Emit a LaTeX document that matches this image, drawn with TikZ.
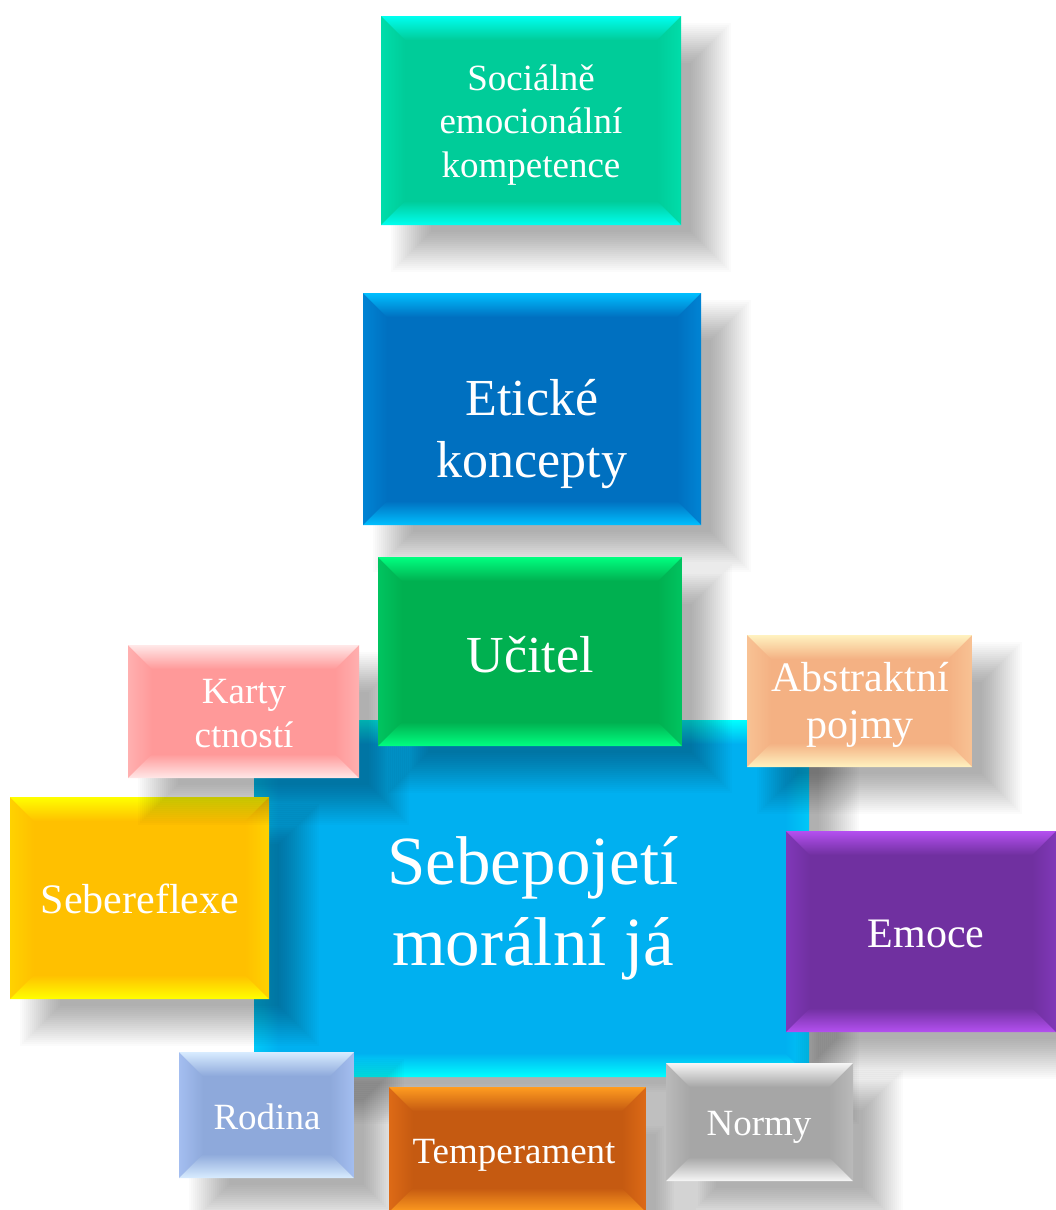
\documentclass[tikz,border=0pt]{standalone}
\usepackage{fontspec}
\setmainfont{Liberation Serif}

% tile colours: base face, light bevel edge (top/bottom), side bevel edge
\definecolor{socB}{HTML}{00CC99}\definecolor{socL}{HTML}{00FFF0}\definecolor{socS}{HTML}{00DDAA}
\definecolor{etiB}{HTML}{0070C0}\definecolor{etiL}{HTML}{00BFFF}\definecolor{etiS}{HTML}{0084D4}
\definecolor{corB}{HTML}{00B0F0}\definecolor{corL}{HTML}{00FFFF}\definecolor{corS}{HTML}{00C8F8}
\definecolor{sebB}{HTML}{FFC000}\definecolor{sebL}{HTML}{FFFF00}\definecolor{sebS}{HTML}{FFD200}
\definecolor{karB}{HTML}{FF9999}\definecolor{karL}{HTML}{FFE8E8}\definecolor{karS}{HTML}{FFB0B0}
\definecolor{uciB}{HTML}{00B050}\definecolor{uciL}{HTML}{00FF80}\definecolor{uciS}{HTML}{00C460}
\definecolor{absB}{HTML}{F4B183}\definecolor{absL}{HTML}{FFF2C0}\definecolor{absS}{HTML}{F8C294}
\definecolor{emoB}{HTML}{7030A0}\definecolor{emoL}{HTML}{B450F0}\definecolor{emoS}{HTML}{8038B8}
\definecolor{rodB}{HTML}{8EA9DB}\definecolor{rodL}{HTML}{D8ECFF}\definecolor{rodS}{HTML}{A4BEF0}
\definecolor{temB}{HTML}{C55A11}\definecolor{temL}{HTML}{FF9C20}\definecolor{temS}{HTML}{DD6A16}
\definecolor{norB}{HTML}{A6A6A6}\definecolor{norL}{HTML}{F6F6F6}\definecolor{norS}{HTML}{BABABA}

\tikzset{
  bevelbox/.style n args={3}{%
    fill=#1, draw=none, inner sep=0pt,
    path picture={
      \def\bw{24}
      \coordinate (pnw) at (path picture bounding box.north west);
      \coordinate (pne) at (path picture bounding box.north east);
      \coordinate (psw) at (path picture bounding box.south west);
      \coordinate (pse) at (path picture bounding box.south east);
      \shade[left color=#3, right color=#1]
        (pnw) -- ([shift={(\bw,\bw)}]pnw) -- ([shift={(\bw,-\bw)}]psw) -- (psw) -- cycle;
      \shade[right color=#3, left color=#1]
        (pne) -- ([shift={(-\bw,\bw)}]pne) -- ([shift={(-\bw,-\bw)}]pse) -- (pse) -- cycle;
      \shade[top color=#2, bottom color=#1]
        (pnw) -- (pne) -- ([shift={(-\bw,\bw)}]pne) -- ([shift={(\bw,\bw)}]pnw) -- cycle;
      \shade[bottom color=#2, top color=#1]
        (psw) -- (pse) -- ([shift={(-\bw,-\bw)}]pse) -- ([shift={(\bw,-\bw)}]psw) -- cycle;
    }
  },
  label text/.style={text=white, inner sep=0pt, anchor=base}
}

% soft drop shadow under a rectangle given by its corners
\newcommand\softshadow[4]{%
  \foreach \r in {-20,-18,...,20}{
    \fill[black, fill opacity=0.017]
      ({#1+30-(\r)},{#2+27-(\r)}) rectangle ({#3+30+(\r)},{#4+27+(\r)});
  }%
}

% bevelled tile with its shadow: name, x1, y1, x2, y2, colour prefix
\newcommand\tile[6]{%
  \softshadow{#2}{#3}{#4}{#5}
  \pgfmathsetmacro\tilew{#4-#2}
  \pgfmathsetmacro\tileh{#5-#3}
  \node[bevelbox={#6B}{#6L}{#6S}, minimum width=\tilew pt, minimum height=\tileh pt]
    (#1) at ({(#2+#4)/2},{(#3+#5)/2}) {};
}

\begin{document}
\begin{tikzpicture}[x=1pt,y=-1pt]
\useasboundingbox (0,0) rectangle (1056,1210);
\fill[white] (0,0) rectangle (1056,1210);
\clip (0,0) rectangle (1056,1210);

\tile{soc}{381}{16}{681}{225}{soc}
\node[label text, font=\fontsize{37}{43.5}\selectfont] (socText) at (531,90)
  {\begin{tabular}[t]{@{}c@{}}Sociálně\\emocionální\\kompetence\end{tabular}};

\tile{etik}{363}{293}{701}{525}{eti}
\node[label text, font=\fontsize{52}{62}\selectfont] (etikText) at (532,415)
  {\begin{tabular}[t]{@{}c@{}}Etické\\koncepty\end{tabular}};

\tile{core}{254}{720}{809}{1077}{cor}
\node[label text, font=\fontsize{69}{81}\selectfont] (coreText) at (533,884)
  {\begin{tabular}[t]{@{}c@{}}Sebepojetí\\morální já\end{tabular}};

\tile{sebe}{10}{797}{269}{999}{seb}
\node[label text, font=\fontsize{42}{48}\selectfont] (sebeText) at (140,913) {Sebereflexe};

\tile{karty}{128}{645}{359}{778}{kar}
\node[label text, font=\fontsize{37}{44}\selectfont] (kartyText) at (244,703)
  {\begin{tabular}[t]{@{}c@{}}Karty\\ctností\end{tabular}};

\tile{ucitel}{378}{557}{682}{746}{uci}
\node[label text, font=\fontsize{52}{62}\selectfont] (ucitelText) at (530,672) {Učitel};

\tile{abstr}{747}{635}{972}{767}{abs}
\node[label text, font=\fontsize{42}{47}\selectfont] (abstrText) at (860,691)
  {\begin{tabular}[t]{@{}c@{}}Abstraktní\\pojmy\end{tabular}};

\tile{emoce}{786}{831}{1056}{1032}{emo}
\node[label text, font=\fontsize{42}{48}\selectfont] (emoceText) at (926,947) {Emoce};

\tile{rodina}{179}{1052}{354}{1178}{rod}
\node[label text, font=\fontsize{37}{44}\selectfont] (rodinaText) at (267,1129) {Rodina};

\tile{temp}{389}{1087}{646}{1212}{tem}
\node[label text, font=\fontsize{37}{44}\selectfont] (tempText) at (514,1163) {Temperament};

\tile{normy}{666}{1063}{853}{1181}{nor}
\node[label text, font=\fontsize{37}{44}\selectfont] (normyText) at (759,1135) {Normy};
\end{tikzpicture}
\end{document}
